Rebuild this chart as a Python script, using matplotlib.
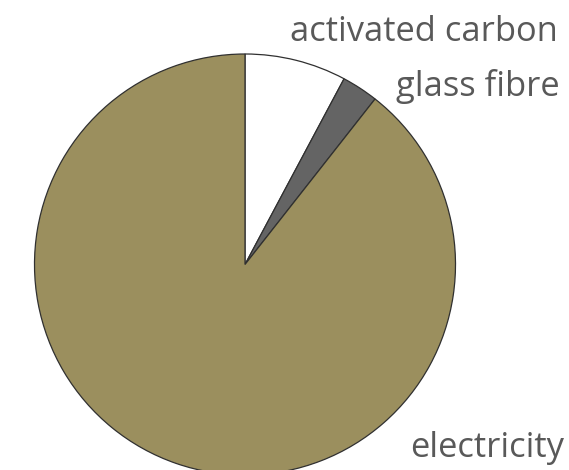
import matplotlib
matplotlib.use("Agg")
import matplotlib.pyplot as plt

# доли по источникам (в процентах), читаются с картинки
labels = ['activated carbon', 'glass fibre', 'electricity']
shares = [7.8, 2.8, 89.4]
colors = ['#ffffff', '#646464', '#9b8f5e']

W, H = 569, 470
fig = plt.figure(figsize=(W / 100, H / 100), dpi=100)

# положение круга в пикселях: центр и радиус
cx, cy, r = 245, 264.5, 210.5
ax = fig.add_axes([(cx - r) / W, (H - cy - r) / H, 2 * r / W, 2 * r / H])
ax.pie(shares, colors=colors, startangle=90, counterclock=False,
       radius=1.0, wedgeprops=dict(edgecolor='#303030', linewidth=0.9))
ax.set_xlim(-1, 1)
ax.set_ylim(-1, 1)
ax.set_aspect('equal')
ax.axis('off')

# подписи справа, выровнены по правому краю
label_pos = [(558, 41), (560, 96), (564, 457)]
for name, (px, py) in zip(labels, label_pos):
    fig.text(px / W, 1 - py / H, name, ha='right', va='baseline',
             fontsize=24.8, color='#595959', family=['Open Sans', 'DejaVu Sans'])

fig.savefig('out.png', dpi=100)
